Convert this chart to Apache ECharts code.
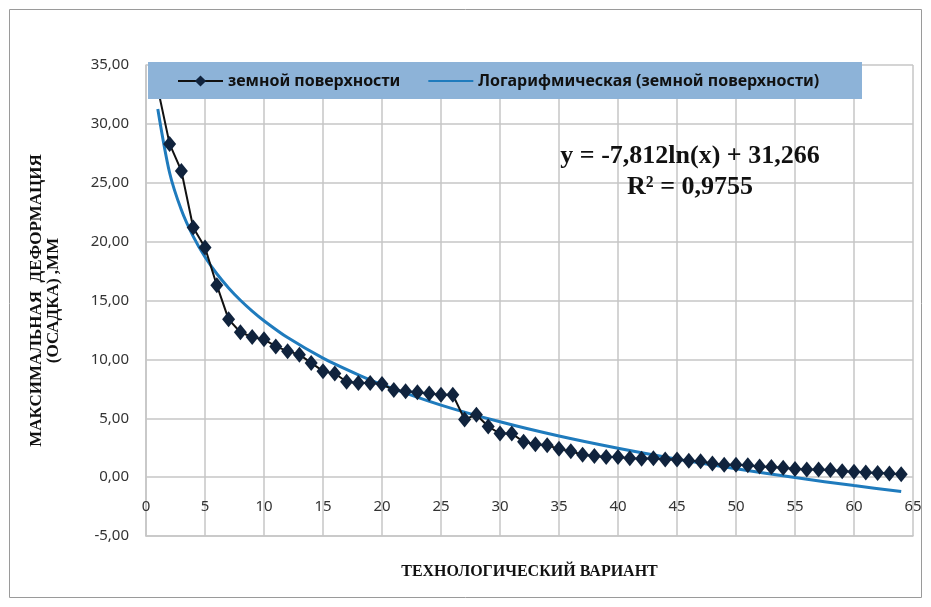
<!DOCTYPE html>
<html>
<head>
    <meta charset="utf-8" />
    <title>Максимальная деформация</title>
    <style>
        html, body { margin: 0; padding: 0; background: #fff; }
        #main { width: 931px; height: 607px; }
    </style>
</head>
<body>
    <div id="main"></div>
    <script src="https://cdn.jsdelivr.net/npm/echarts@6/dist/echarts.min.js"></script>
    <script type="text/javascript">
        // технологический вариант 1..64, осадка (мм)
        var variants = [1, 2, 3, 4, 5, 6, 7, 8, 9, 10, 11, 12, 13, 14, 15, 16, 17, 18, 19, 20,
            21, 22, 23, 24, 25, 26, 27, 28, 29, 30, 31, 32, 33, 34, 35, 36, 37, 38, 39, 40,
            41, 42, 43, 44, 45, 46, 47, 48, 49, 50, 51, 52, 53, 54, 55, 56, 57, 58, 59, 60,
            61, 62, 63, 64];
        var settlement = [33.0, 28.3, 26.0, 21.2, 19.5, 16.3, 13.4, 12.3, 11.9, 11.7,
            11.1, 10.7, 10.4, 9.7, 9.0, 8.8, 8.1, 8.0, 8.0, 7.9,
            7.4, 7.3, 7.2, 7.1, 7.0, 7.0, 4.9, 5.3, 4.3, 3.7,
            3.7, 3.0, 2.8, 2.7, 2.4, 2.2, 1.9, 1.8, 1.7, 1.7,
            1.6, 1.55, 1.6, 1.5, 1.5, 1.4, 1.35, 1.15, 1.05, 1.05,
            1.0, 0.9, 0.85, 0.8, 0.7, 0.65, 0.65, 0.6, 0.5, 0.45,
            0.4, 0.35, 0.3, 0.25];

        // логарифмическая линия тренда
        var trendX = [1, 2, 3, 4, 5, 6, 7, 8, 9, 10, 12, 15, 18, 20, 25, 30, 35, 40, 45, 50, 55, 60, 64];
        var trendY = [31.27, 25.85, 22.68, 20.44, 18.69, 17.27, 16.07, 15.02, 14.10, 13.28, 11.85,
            10.11, 8.69, 7.86, 6.12, 4.70, 3.49, 2.45, 1.53, 0.71, -0.04, -0.72, -1.22];

        var seriesName = 'земной поверхности';
        var trendName = 'Логарифмическая (земной поверхности)';
        var equation = 'y = -7,812ln(x) + 31,266';
        var rSquared = 'R² = 0,9755';

        var gridColor = '#c6c6c6';
        var labelColor = '#333';

        var myChart = echarts.init(document.getElementById('main'));

        var mainData = [];
        for (var i = 0; i < variants.length; i++) {
            mainData.push([variants[i], settlement[i]]);
        }
        var trendData = [];
        for (var j = 0; j < trendX.length; j++) {
            trendData.push([trendX[j], trendY[j]]);
        }

        var option = {
            animation: false,
            backgroundColor: '#fff',
            textStyle: { fontFamily: 'Noto Sans' },
            grid: {
                left: 146,
                right: 18,
                top: 65,
                bottom: 71,
                outerBoundsMode: 'none',
                containLabel: false
            },
            legend: {
                left: 177,
                top: 73,
                padding: 0,
                itemGap: 27,
                itemWidth: 45,
                itemHeight: 14,
                z: 20,
                data: [
                    seriesName,
                    { name: trendName, itemStyle: { opacity: 0 } }
                ],
                textStyle: {
                    color: '#111',
                    fontSize: 16,
                    fontWeight: 'bold',
                    fontFamily: 'Noto Sans'
                }
            },
            graphic: [
                {
                    type: 'rect',
                    z: 15,
                    silent: true,
                    shape: { x: 9.5, y: 9.5, width: 912, height: 588 },
                    style: { fill: 'none', stroke: '#9a9a9a', lineWidth: 1 }
                },
                {
                    type: 'rect',
                    z: 15,
                    silent: true,
                    shape: { x: 148, y: 62, width: 714, height: 37 },
                    style: { fill: '#8db3d8' }
                },
                {
                    type: 'text',
                    z: 15,
                    x: 690,
                    y: 156,
                    style: {
                        text: equation,
                        fill: '#111',
                        align: 'center',
                        verticalAlign: 'middle',
                        font: 'bold 26px "Liberation Serif"'
                    }
                },
                {
                    type: 'text',
                    z: 15,
                    x: 690,
                    y: 187,
                    style: {
                        text: rSquared,
                        fill: '#111',
                        align: 'center',
                        verticalAlign: 'middle',
                        font: 'bold 26px "Liberation Serif"'
                    }
                }
            ],
            xAxis: {
                type: 'value',
                min: 0,
                max: 65,
                interval: 5,
                name: 'ТЕХНОЛОГИЧЕСКИЙ ВАРИАНТ',
                nameLocation: 'middle',
                nameGap: 28,
                nameTextStyle: {
                    color: '#111',
                    fontSize: 16,
                    fontWeight: 'bold',
                    fontFamily: 'Liberation Serif'
                },
                axisLine: { onZero: false, lineStyle: { color: gridColor, width: 1.5 } },
                axisTick: { show: false },
                axisLabel: {
                    inside: true,
                    margin: 22,
                    color: labelColor,
                    fontSize: 15,
                    fontFamily: 'Noto Sans'
                },
                splitLine: { show: true, lineStyle: { color: gridColor, width: 1.5 } }
            },
            yAxis: {
                type: 'value',
                min: -5,
                max: 35,
                interval: 5,
                name: 'МАКСИМАЛЬНАЯ  ДЕФОРМАЦИЯ\n(ОСАДКА) ,ММ',
                nameLocation: 'middle',
                nameGap: 84,
                nameTextStyle: {
                    color: '#111',
                    fontSize: 17,
                    fontWeight: 'bold',
                    fontFamily: 'Liberation Serif',
                    lineHeight: 17,
                    align: 'center'
                },
                axisLine: { show: true, onZero: false, lineStyle: { color: gridColor, width: 1.5 } },
                axisTick: { show: false },
                axisLabel: {
                    margin: 17,
                    color: labelColor,
                    fontSize: 15,
                    fontFamily: 'Noto Sans',
                    formatter: function (v) {
                        return v.toFixed(2).replace('.', ',');
                    }
                },
                splitLine: { show: true, lineStyle: { color: gridColor, width: 1.5 } }
            },
            series: [
                {
                    name: trendName,
                    type: 'line',
                    data: trendData,
                    smooth: 0.3,
                    showSymbol: false,
                    symbol: 'none',
                    color: '#1f7bbd',
                    lineStyle: { color: '#1f7bbd', width: 3 },
                    z: 2
                },
                {
                    name: seriesName,
                    type: 'line',
                    data: mainData,
                    symbol: 'diamond',
                    symbolSize: [13, 16],
                    color: '#111',
                    itemStyle: { color: '#10233d' },
                    lineStyle: { color: '#111', width: 2 },
                    z: 3
                }
            ]
        };

        myChart.setOption(option);
    </script>
</body>
</html>
